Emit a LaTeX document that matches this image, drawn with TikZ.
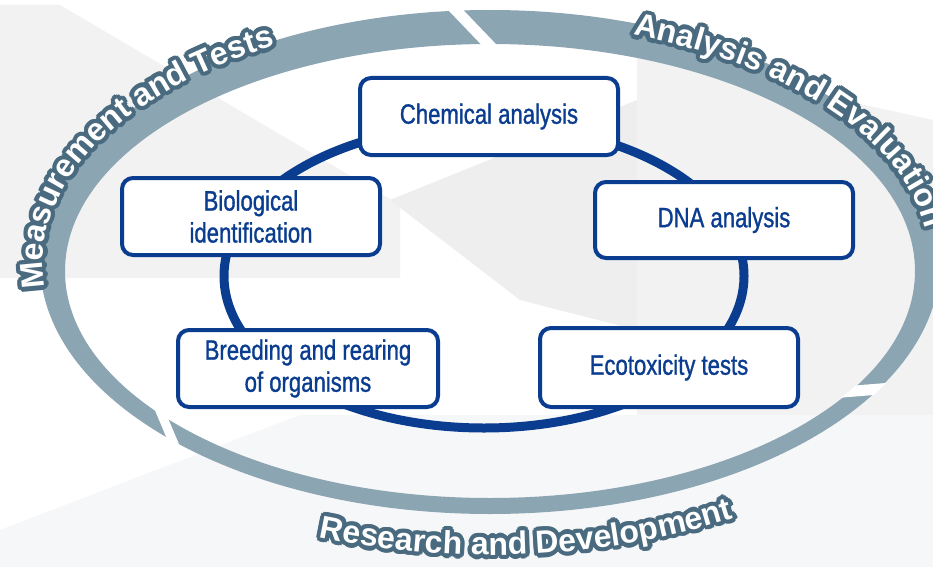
\documentclass[tikz,border=0pt]{standalone}
\usepackage{fontspec}
\setmainfont{Liberation Sans}
\newfontfamily\boxfont[FakeStretch=0.79,FakeBold=1.1]{Liberation Sans}
\newfontfamily\ringfont{Liberation Sans}
\newcommand\ringstyle{\ringfont\bfseries\fontsize{32}{32}\selectfont}
\usetikzlibrary{decorations.text}
\definecolor{ringc}{HTML}{8CA5B2}
\definecolor{outl}{HTML}{4A6B7F}
\definecolor{dblue}{HTML}{0A3D8F}
\definecolor{bgA}{HTML}{F2F2F2}
\definecolor{bgB}{HTML}{F6F7F8}
\definecolor{bgC}{HTML}{EEEEEE}
\tikzset{
  stagebox/.style={draw=dblue, line width=4pt, fill=white, rounded corners=11pt,
    text=dblue, font=\boxfont\fontsize{28}{32}\selectfont, align=center,
    inner sep=0pt},
  gapline/.style={draw=white, line width=11pt}
}
\newcommand\ringlabel[2]{%
  \foreach \a in {0,22.5,...,337.5}{%
    \path[shift={(\a:4.3)}, decorate, decoration={text along path,
      text={|\ringstyle\color{outl}|#1}}] #2;}
  \path[decorate, decoration={text along path,
      text={|\ringstyle\color{white}|#1}}] #2;}
\begin{document}
\begin{tikzpicture}[x=1pt,y=1pt]
\useasboundingbox (0,0) rectangle (933,-567);
\fill[white] (0,0) rectangle (933,-567);
% background shapes
\fill[bgA] (0,-5) -- (60,-5) -- (400,-205) -- (400,-278) -- (0,-278) -- cycle;
\fill[bgA] (637,-55) -- (933,-120) -- (933,-420) -- (637,-420) -- cycle;
\fill[bgC] (390,-200) -- (637,-100) -- (637,-330) -- (520,-300) -- cycle;
\fill[bgB] (0,-567) -- (0,-530) -- (300,-415) -- (933,-415) -- (933,-567) -- cycle;
% outer ring
\fill[ringc, even odd rule] (490,-262) ellipse [x radius=450, y radius=252]
  (490,-271) ellipse [x radius=425, y radius=227];
\coordinate (g1a) at (448,-2);  \coordinate (g1b) at (494,-50);
\coordinate (g2a) at (830,-393); \coordinate (g2b) at (930,-385);
\coordinate (g3a) at (158,-406); \coordinate (g3b) at (196,-496);
\begin{scope}[even odd rule]
  \clip (490,-262) ellipse [x radius=451, y radius=253]
    (490,-271) ellipse [x radius=424, y radius=226];
  \draw[gapline] (g1a) -- (g1b);
  \draw[gapline] (g2a) -- (g2b);
  \draw[gapline, line width=9pt] (g3a) -- (g3b);
\end{scope}
% ring labels
\ringlabel{Measurement and Tests}{(490,-262) ++(186:447 and 247) arc[start angle=186, end angle=90, x radius=447, y radius=247]}
\ringlabel{Analysis and Evaluation}{(490,-262) ++(71:440 and 240) arc[start angle=71, end angle=-20, x radius=440, y radius=240]}
\ringlabel{Research and Development}{(490,-262) ++(250:500 and 293) arc[start angle=250, end angle=320, x radius=500, y radius=293]}
% inner cycle
\draw[dblue, line width=9pt] (484,-276) ellipse [x radius=260, y radius=152];
% boxes
\node[stagebox, minimum width=258pt, minimum height=77pt] (chem) at (489,-116.5) {Chemical analysis};
\node[stagebox, minimum width=258pt, minimum height=76pt] (dna) at (724,-220) {DNA analysis};
\node[stagebox, minimum width=258pt, minimum height=77pt] (bio) at (251,-216.5) {Biological\\identification};
\node[stagebox, minimum width=260pt, minimum height=77pt] (breed) at (308,-368.5) {Breeding and rearing\\of organisms};
\node[stagebox, minimum width=258pt, minimum height=79pt] (eco) at (669,-367.5) {Ecotoxicity tests};
\end{tikzpicture}
\end{document}
